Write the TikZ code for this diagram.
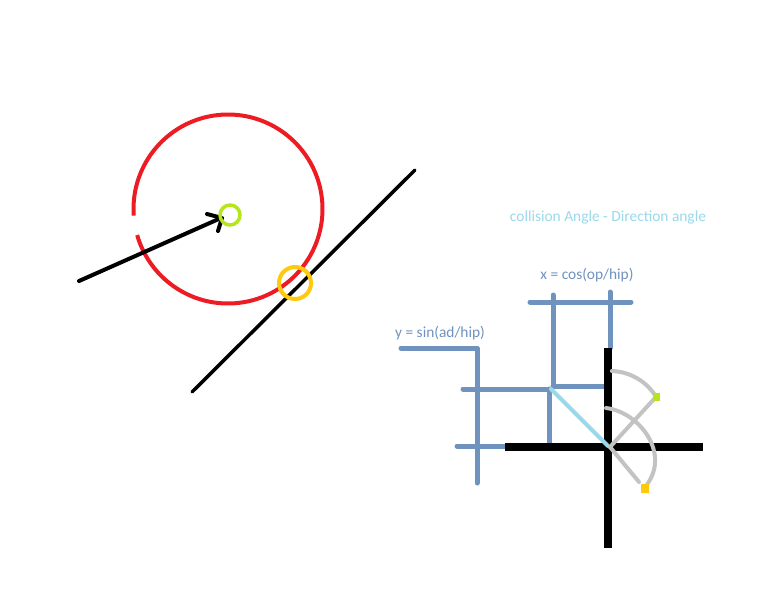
\documentclass[tikz,border=0pt]{standalone}
\usepackage{fontspec}
\setmainfont{Carlito}
\definecolor{pred}{HTML}{ED1C24}
\definecolor{plime}{HTML}{B5E61D}
\definecolor{porange}{HTML}{FFC90E}
\definecolor{pblue}{HTML}{7092BE}
\definecolor{plblue}{HTML}{99D9EA}
\definecolor{pgray}{HTML}{C3C3C3}
\tikzset{
  bluestroke/.style={pblue,line width=5pt,line cap=round},
  blackthick/.style={black,line width=8pt},
  graystroke/.style={pgray,line width=4pt,line cap=round},
  label/.style={font=\fontsize{15.4}{18}\selectfont,inner sep=0pt},
}
\begin{document}
\begin{tikzpicture}[x=1pt,y=-1pt]
\useasboundingbox (0,0) rectangle (768,614);
\fill[white] (0,0) rectangle (768,614);
% left part
\draw[pred,line width=4pt] (228,209) ++(176:94.5) arc[start angle=176,end angle=524,radius=94.5];
\draw[black,line width=3.5pt,line cap=round] (192,392) -- (415,170);
\draw[black,line width=4pt,line cap=round] (79,281) -- (221,218);
\draw[black,line width=4pt,line cap=round,line join=round] (207,214) -- (222,218) -- (218,231);
\draw[plime,line width=3.5pt] (230,215) circle[radius=10];
\draw[porange,line width=4pt] (295,283) circle[radius=16];
% texts
\node[label,text=plblue] (coll) at (608,217) {collision Angle - Direction angle};
\node[label,text=pblue] (xcos) at (587,275) {x = cos(op/hip)};
\node[label,text=pblue] (ysin) at (440,333) {y = sin(ad/hip)};
% blue construction lines
\draw[bluestroke] (530,302) -- (631,302);
\draw[bluestroke] (553,295) -- (553,386);
\draw[bluestroke] (549,389) -- (549,445);
\draw[bluestroke] (610,292) -- (610,348);
\draw[bluestroke,line join=round] (401,348) -- (477,348) -- (477,483);
\draw[bluestroke] (463,389) -- (551,389);
\draw[bluestroke] (553,386) -- (609,386);
\draw[bluestroke] (457,446) -- (510,446);
% black axes
\draw[blackthick] (505,447) -- (703,447);
\draw[blackthick] (608,348) -- (608,548);
% light blue diagonal
\draw[plblue,line width=4pt,line cap=round] (551,389) -- (608,446);
% gray arcs and radii
\draw[graystroke] (610,447) -- (655,398);
\draw[graystroke] (610,447) -- (639,482);
\draw[graystroke] (610,425) ++(-88:54) arc[start angle=-88,end angle=-31,radius=54];
\draw[graystroke] (606,408) .. controls (640,412) and (672,455) .. (645,487);
% end dots
\fill[plime] (653,393) rectangle (660,401);
\fill[porange] (641,484) rectangle (649,493);
\end{tikzpicture}
\end{document}
